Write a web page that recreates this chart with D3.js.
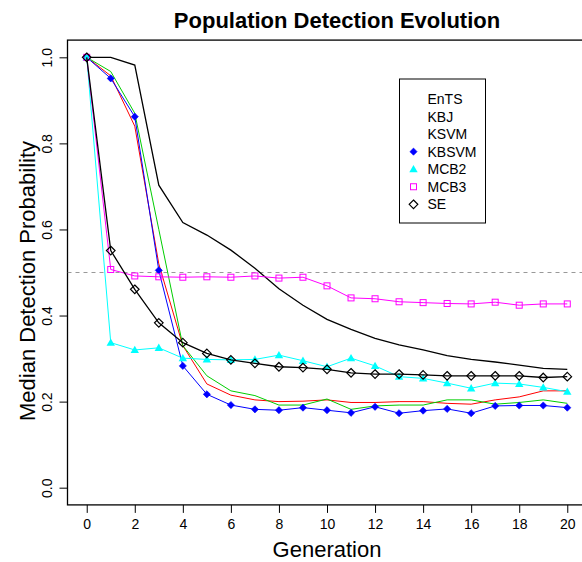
<!DOCTYPE html>
<html>
    <head>
        <title>Population Detection Evolution</title>
        <style>
        html, body {
            margin: 0;
            padding: 0;
            background: white;
        }
        svg {
            display: block;
            font-family: "Liberation Sans", Arial, Helvetica, sans-serif;
        }
        </style>
    </head>
    <body>
        <svg width="582" height="562"></svg>

        <script src="https://cdnjs.cloudflare.com/ajax/libs/d3/7.8.5/d3.min.js"></script>
        <script>
            let generations = d3.range(0, 21);
            let xTicks = [0, 2, 4, 6, 8, 10, 12, 14, 16, 18, 20];
            let yTicks = [0, 0.2, 0.4, 0.6, 0.8, 1.0];
            let names = ["EnTS", "KBJ", "KSVM", "KBSVM", "MCB2", "MCB3", "SE"];

            let ents  = [1.0, 1.0, 0.982, 0.703, 0.616, 0.587, 0.552, 0.51, 0.462, 0.424, 0.391, 0.368, 0.347, 0.332, 0.32, 0.307, 0.298, 0.292, 0.285, 0.277, 0.275];
            let kbj   = [1.0, 0.957, 0.84, 0.52, 0.33, 0.241, 0.215, 0.204, 0.2, 0.201, 0.204, 0.198, 0.198, 0.2, 0.2, 0.196, 0.194, 0.204, 0.211, 0.225, 0.225];
            let ksvm  = [1.0, 0.967, 0.87, 0.6, 0.33, 0.26, 0.225, 0.214, 0.192, 0.192, 0.206, 0.182, 0.19, 0.192, 0.192, 0.204, 0.204, 0.194, 0.198, 0.204, 0.196];
            let kbsvm = [1.0, 0.951, 0.862, 0.505, 0.283, 0.217, 0.192, 0.182, 0.18, 0.186, 0.18, 0.174, 0.188, 0.173, 0.179, 0.183, 0.173, 0.19, 0.191, 0.191, 0.186];
            let mcb2  = [1.0, 0.337, 0.32, 0.325, 0.301, 0.298, 0.297, 0.298, 0.308, 0.295, 0.281, 0.301, 0.283, 0.258, 0.254, 0.243, 0.231, 0.243, 0.241, 0.233, 0.223];
            let mcb3  = [1.0, 0.507, 0.492, 0.49, 0.489, 0.49, 0.489, 0.492, 0.487, 0.489, 0.469, 0.441, 0.439, 0.432, 0.43, 0.428, 0.427, 0.431, 0.424, 0.427, 0.427];
            let se    = [1.0, 0.551, 0.461, 0.383, 0.337, 0.312, 0.297, 0.289, 0.281, 0.279, 0.275, 0.267, 0.264, 0.264, 0.262, 0.26, 0.26, 0.26, 0.26, 0.256, 0.258];
            let threshold = 0.5;

            let series = [
                {name: "EnTS",  values: ents,  color: "black",   marker: null,      width: 1.3},
                {name: "KBJ",   values: kbj,   color: "#ff0000", marker: null,      width: 1},
                {name: "KSVM",  values: ksvm,  color: "#00cd00", marker: null,      width: 1},
                {name: "KBSVM", values: kbsvm, color: "#0000ff", marker: "fdiamond", width: 1},
                {name: "MCB2",  values: mcb2,  color: "#00ffff", marker: "triangle", width: 1},
                {name: "MCB3",  values: mcb3,  color: "#ff00ff", marker: "square",   width: 1},
                {name: "SE",    values: se,    color: "black",   marker: "diamond",  width: 1.3}
            ];

            let x = d3.scaleLinear().domain([-0.8, 20.8]).range([67.5, 586.5]);
            let y = d3.scaleLinear().domain([-0.04, 1.04]).range([504.9, 40.1]);

            let svg = d3.select("svg");

            svg.append("defs").append("clipPath").attr("id", "plotclip")
                .append("rect")
                .attr("x", x.range()[0]).attr("y", y.range()[1])
                .attr("width", x.range()[1] - x.range()[0])
                .attr("height", y.range()[0] - y.range()[1]);

            // axes
            let xAxis = d3.axisBottom(x).tickValues(xTicks).tickSize(8).tickPadding(6).tickFormat(d3.format("d"));
            let gx = svg.append("g")
                .attr("transform", "translate(0," + y.range()[0] + ")")
                .call(xAxis);
            gx.select(".domain").remove();
            gx.selectAll("text").attr("font-size", 14).attr("fill", "black")
                .attr("font-family", "Liberation Sans, Arial, sans-serif");

            let yAxis = d3.axisLeft(y).tickValues(yTicks).tickSize(8).tickFormat(d3.format(".1f"));
            let gy = svg.append("g")
                .attr("transform", "translate(" + x.range()[0] + ",0)")
                .call(yAxis);
            gy.select(".domain").remove();
            gy.selectAll("text")
                .attr("font-size", 14).attr("fill", "black")
                .attr("font-family", "Liberation Sans, Arial, sans-serif")
                .attr("x", null).attr("dy", null)
                .attr("text-anchor", "middle")
                .attr("transform", "translate(-16,0) rotate(-90)");

            // box
            svg.append("rect")
                .attr("x", x.range()[0]).attr("y", y.range()[1])
                .attr("width", x.range()[1] - x.range()[0])
                .attr("height", y.range()[0] - y.range()[1])
                .attr("fill", "none").attr("stroke", "black").attr("stroke-width", 1.3);

            let plot = svg.append("g").attr("clip-path", "url(#plotclip)");

            plot.append("line")
                .attr("x1", x.range()[0]).attr("x2", x.range()[1])
                .attr("y1", y(threshold)).attr("y2", y(threshold))
                .attr("stroke", "#999").attr("stroke-dasharray", "4,4");

            let line = d3.line()
                .x((d, i) => x(generations[i]))
                .y(d => y(d));

            function drawMarker(g, type, color, cx, cy) {
                if (type === "fdiamond") {
                    let r = 3.6;
                    g.append("path")
                        .attr("d", `M${cx},${cy - r}L${cx + r},${cy}L${cx},${cy + r}L${cx - r},${cy}Z`)
                        .attr("fill", color).attr("stroke", color).attr("stroke-width", 0.6);
                } else if (type === "triangle") {
                    let s = 4.2;
                    g.append("path")
                        .attr("d", `M${cx},${cy - s}L${cx + s},${cy + s * 0.75}L${cx - s},${cy + s * 0.75}Z`)
                        .attr("fill", color);
                } else if (type === "square") {
                    let s = 3;
                    g.append("rect")
                        .attr("x", cx - s).attr("y", cy - s)
                        .attr("width", 2 * s).attr("height", 2 * s)
                        .attr("fill", "none").attr("stroke", color).attr("stroke-width", 1);
                } else if (type === "diamond") {
                    let r = 4.3;
                    g.append("path")
                        .attr("d", `M${cx},${cy - r}L${cx + r},${cy}L${cx},${cy + r}L${cx - r},${cy}Z`)
                        .attr("fill", "none").attr("stroke", color).attr("stroke-width", 1.2);
                }
            }

            series.forEach(s => {
                plot.append("path")
                    .attr("d", line(s.values))
                    .attr("fill", "none")
                    .attr("stroke", s.color)
                    .attr("stroke-width", s.width);
                if (s.marker) {
                    let mg = plot.append("g");
                    s.values.forEach((v, i) => drawMarker(mg, s.marker, s.color, x(generations[i]), y(v)));
                }
            });

            // legend
            let lx = 399.5, ly = 79, lw = 86, lh = 144;
            svg.append("rect")
                .attr("x", lx).attr("y", ly).attr("width", lw).attr("height", lh)
                .attr("fill", "white").attr("stroke", "black").attr("stroke-width", 1);
            series.forEach((s, i) => {
                let cy = 99 + i * 17.55;
                if (s.marker) {
                    drawMarker(svg, s.marker, s.color, 413.5, cy);
                }
                svg.append("text")
                    .attr("x", 427.5).attr("y", cy + 5)
                    .attr("font-size", 14)
                    .text(names[i]);
            });

            // titles
            svg.append("text")
                .attr("x", 337).attr("y", 28)
                .attr("text-anchor", "middle")
                .attr("font-size", 22).attr("font-weight", "bold")
                .text("Population Detection Evolution");

            svg.append("text")
                .attr("x", 327).attr("y", 557)
                .attr("text-anchor", "middle")
                .attr("font-size", 22)
                .text("Generation");

            svg.append("text")
                .attr("transform", "translate(35,281) rotate(-90)")
                .attr("text-anchor", "middle")
                .attr("font-size", 22)
                .text("Median Detection Probability");
        </script>
    </body>
</html>
